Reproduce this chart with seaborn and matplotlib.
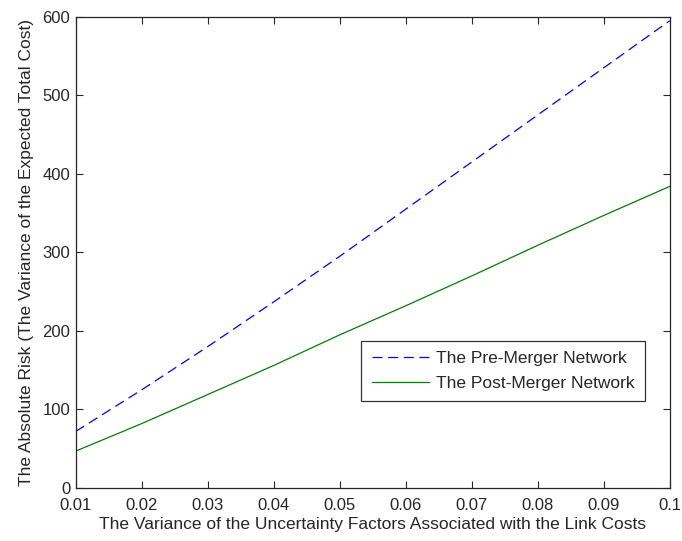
import numpy as np
import pandas as pd
import seaborn as sns
import matplotlib.pyplot as plt

# values
variance = [0.01, 0.02, 0.03, 0.04, 0.05, 0.06, 0.07, 0.08, 0.09, 0.10]
pre_merger = [72, 125, 180, 237, 295, 355, 415, 475, 535, 595]
post_merger = [47, 82, 119, 156, 195, 232, 270, 309, 347, 384]

df = pd.DataFrame({
    "variance": variance * 2,
    "risk": pre_merger + post_merger,
    "network": ["The Pre-Merger Network"] * 10 + ["The Post-Merger Network"] * 10,
})

sns.set_style("ticks")
plt.rcParams['font.family'] = ['Liberation Sans', 'DejaVu Sans']
plt.rcParams['xtick.direction'] = 'in'
plt.rcParams['ytick.direction'] = 'in'

fig, ax = plt.subplots(figsize=(6.82, 5.41), dpi=100)
fig.subplots_adjust(left=0.111, right=0.982, top=0.969, bottom=0.098)

sns.lineplot(data=df, x="variance", y="risk", hue="network", style="network",
             palette=["#0000ff", "#008000"], dashes=[(8, 4.5), ""], linewidth=0.9,
             ax=ax)

ax.set_xlim(0.01, 0.1)
ax.set_ylim(0, 600)
ax.set_xticks(variance)
ax.set_xticklabels(["0.01", "0.02", "0.03", "0.04", "0.05", "0.06", "0.07", "0.08", "0.09", "0.1"])
ax.set_yticks([0, 100, 200, 300, 400, 500, 600])
ax.tick_params(top=True, right=True, labelsize=12, length=5)
ax.tick_params(axis="x", pad=7)
ax.tick_params(axis="y", pad=4)
for s in ax.spines.values():
    s.set_linewidth(0.9)

ax.set_xlabel("The Variance of the Uncertainty Factors Associated with the Link Costs",
              fontsize=12.5, labelpad=3)
ax.set_ylabel("The Absolute Risk (The Variance of the Expected Total Cost)",
              fontsize=12.5, labelpad=6)

leg = ax.legend(loc="lower left", bbox_to_anchor=(0.481, 0.184), fontsize=12.5,
                frameon=True, fancybox=False, edgecolor="black", handlelength=3.3,
                borderaxespad=0, handletextpad=0.4, borderpad=0.6, labelspacing=0.55)
leg.get_frame().set_linewidth(0.9)

fig.savefig("out.png", dpi=100)
